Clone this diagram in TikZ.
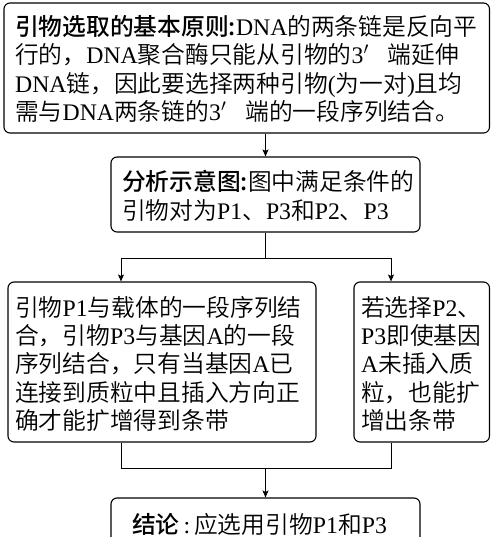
\documentclass[tikz,border=0pt]{standalone}
\usepackage{fontspec}
\usetikzlibrary{arrows.meta}
\setmainfont{Liberation Serif}
\IfFontExistsTF{Noto Sans CJK SC DemiLight}{\newfontfamily\zhs{Noto Sans CJK SC DemiLight}}{\newfontfamily\zhs{Noto Sans CJK SC}}
\IfFontExistsTF{Noto Sans CJK SC Medium}{\newfontfamily\zhh{Noto Sans CJK SC Medium}\newcommand\HH[1]{{\zhh #1}}}{\newfontfamily\zhh{Noto Sans CJK SC}\newcommand\HH[1]{{\zhh\bfseries #1}}}
\newcommand\Z[1]{{\zhs #1}}
\newcommand\pr{$'$\hspace{19pt}}
\tikzset{
  box/.style={draw=black, line width=1.1pt, rounded corners=6pt, inner sep=0pt},
  txt/.style={anchor=base west, inner sep=0pt, text width=470pt, align=left,
    font=\fontsize{23.75}{28.45}\selectfont},
  conn/.style={draw=black, line width=1pt},
  arr/.style={conn, -{Stealth[length=7pt,width=6pt,inset=1.5pt]}}
}
\begin{document}
\begin{tikzpicture}[x=1pt,y=-1pt]
\clip (0,0) rectangle (490,537);
% boxes
\node[box, minimum width=485.5pt, minimum height=130pt] (b1) at (246.75,68) {};
\node[box, minimum width=309pt, minimum height=75pt] (b2) at (265.5,194.5) {};
\node[box, minimum width=308pt, minimum height=160pt] (b3) at (162,362) {};
\node[box, minimum width=135.5pt, minimum height=160pt] (b4) at (421.75,362) {};
\node[box, minimum width=309pt, minimum height=70pt] (b5) at (265.5,533) {};
% texts
\node[txt] (t1) at (15,35.5) {\HH{引物选取的基本原则:}DNA\Z{的两条链是反向平}\\
\Z{行的，}DNA\Z{聚合酶只能从引物的}3\pr\Z{端延伸}\\
DNA\Z{链，因此要选择两种引物}(\Z{为一对})\Z{且均}\\
\Z{需与}DNA\Z{两条链的}3\pr\Z{端的一段序列结合。}};
\node[txt] (t2) at (122,191) {\HH{分析示意图:}\Z{图中满足条件的}\\
\Z{引物对为}P1\Z{、}P3\Z{和}P2\Z{、}P3};
\node[txt] (t3) at (15,316) {\Z{引物}P1\Z{与载体的一段序列结}\\
\Z{合，引物}P3\Z{与基因}A\Z{的一段}\\
\Z{序列结合，只有当基因}A\Z{已}\\
\Z{连接到质粒中且插入方向正}\\
\Z{确才能扩增得到条带}};
\node[txt] (t4) at (361,316) {\Z{若选择}P2\Z{、}\\
P3\Z{即使基因}\\
A\Z{未插入质}\\
\Z{粒，也能扩}\\
\Z{增出条带}};
\node[txt] (t5) at (132,533) {\HH{结论}\,:\,\Z{应选用引物}P1\Z{和}P3};
% connectors
\coordinate (s1) at (121,258);
\coordinate (s2) at (391,258);
\coordinate (m1) at (121,468);
\coordinate (m2) at (391,468);
\draw[arr] (b1.south -| b2.north) -- (b2.north);
\draw[conn] (b2.south) -- (b2.south |- s1);
\draw[conn] (s1) -- (s2);
\draw[arr] (s1) -- (s1 |- b3.north);
\draw[arr] (s2) -- (s2 |- b4.north);
\draw[conn] (m1 |- b3.south) -- (m1) -- (m2) -- (m2 |- b4.south);
\draw[arr] (b5.north |- m1) -- (b5.north);
\end{tikzpicture}
\end{document}
